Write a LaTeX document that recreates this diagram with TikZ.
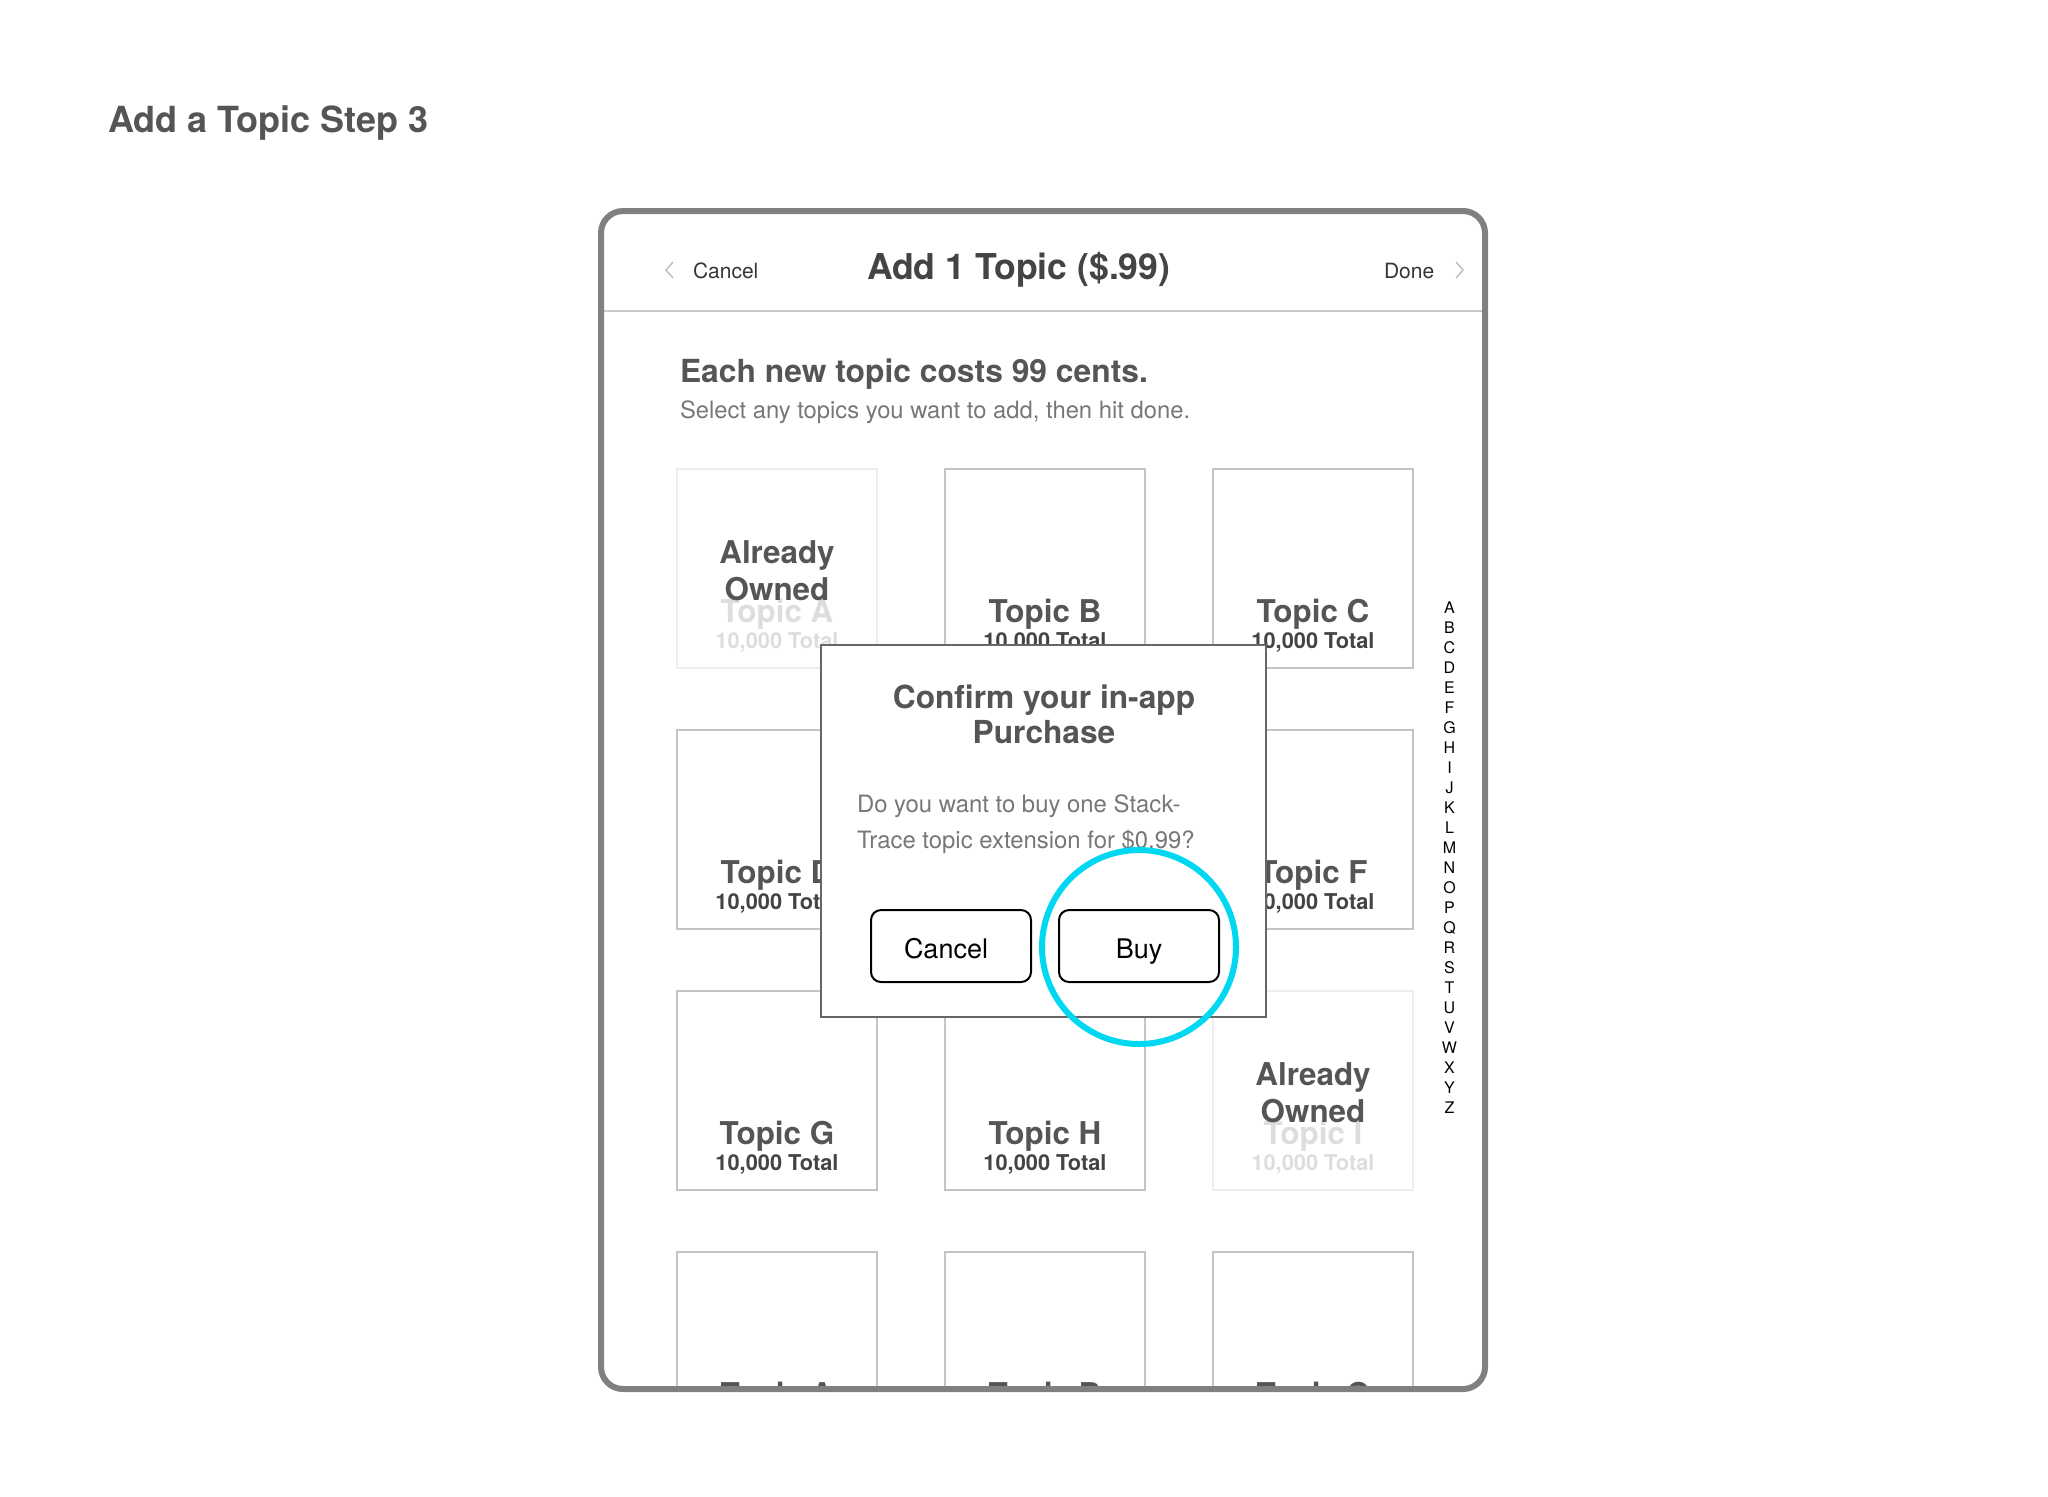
\documentclass[tikz,border=0pt]{standalone}
\usepackage{fontspec}
\setmainfont{TeX Gyre Heros}
\definecolor{framegray}{HTML}{808080}
\definecolor{sepgray}{HTML}{C8C8C8}
\definecolor{tilegray}{HTML}{C4C4C4}
\definecolor{ghostborder}{HTML}{EEEEEE}
\definecolor{ghosttext}{HTML}{DDDDDD}
\definecolor{headtext}{HTML}{555555}
\definecolor{darktext}{HTML}{444444}
\definecolor{softtext}{HTML}{777777}
\definecolor{dlgborder}{HTML}{666666}
\definecolor{chevgray}{HTML}{BBBBBB}
\definecolor{hilite}{HTML}{00D8F2}
\newcommand{\pxf}[1]{\fontsize{#1pt}{#1pt}\selectfont}
\begin{document}
\begin{tikzpicture}[x=0.5pt,y=-0.5pt,
  txt/.style={inner sep=0pt,outer sep=0pt},
  tilebox/.style={draw=tilegray,line width=1pt},
  ownedbox/.style={draw=ghostborder,line width=1pt},
  tname/.style={txt,anchor=base,font=\bfseries\pxf{15.7},text=headtext},
  ttotal/.style={txt,anchor=base,font=\bfseries\pxf{10.9},text=darktext},
  gname/.style={txt,anchor=base,font=\bfseries\pxf{15.7},text=ghosttext},
  gtotal/.style={txt,anchor=base,font=\bfseries\pxf{10.9},text=ghosttext},
  owned/.style={txt,anchor=base,font=\bfseries\pxf{15.7},text=headtext},
  chev/.style={draw=chevgray,line width=0.7pt},
  btn/.style={draw=black,line width=1pt,rounded corners=5pt},
  btntext/.style={txt,anchor=base,font=\pxf{13.5},text=black},
  idx/.style={txt,anchor=base,font=\pxf{8},text=black}]
\useasboundingbox (0,0) rectangle (2048,1496);

% page title
\node[txt,anchor=base west,font=\bfseries\pxf{18},text=headtext] (pagetitle) at (108,132) {Add a Topic Step 3};

% tiles (clipped to the device screen)
\begin{scope}
\clip (604,214) rectangle (1482,1386);
\foreach \c/\r/\lab/\own in {0/0/A/1,1/0/B/0,2/0/C/0,0/1/D/0,1/1/E/0,2/1/F/0,0/2/G/0,1/2/H/0,2/2/I/1,0/3/A/0,1/3/B/0,2/3/C/0}{
  \pgfmathsetmacro\tx{677+268*\c}
  \pgfmathsetmacro\ty{469+261*\r}
  \ifnum\own=1
    \draw[ownedbox] (\tx,\ty) rectangle ++(200,199);
    \node[gname] (name\c\r) at (\tx+100,\ty+153) {Topic \lab};
    \node[gtotal] (total\c\r) at (\tx+100,\ty+179) {10,000 Total};
    \node[owned] (al\c\r) at (\tx+100,\ty+94) {Already};
    \node[owned] (ow\c\r) at (\tx+100,\ty+131) {Owned};
  \else
    \draw[tilebox] (\tx,\ty) rectangle ++(200,199);
    \node[tname] (name\c\r) at (\tx+100,\ty+153) {Topic \lab};
    \node[ttotal] (total\c\r) at (\tx+100,\ty+179) {10,000 Total};
  \fi
}
\end{scope}

% device frame
\draw[framegray,line width=3pt,rounded corners=11pt] (601,211) rectangle (1485,1389);
\draw[sepgray,line width=1.2pt] (604,311) -- (1482,311);

% header
\draw[chev] (673,262) -- (666,270) -- (673,278);
\node[txt,anchor=base west,font=\pxf{10.5},text=darktext!80!black] (cancelhdr) at (693,278) {Cancel};
\node[txt,anchor=base west,font=\bfseries\pxf{17.8},text=darktext] (hdrtitle) at (867,279) {Add 1 Topic (\$.99)};
\node[txt,anchor=base west,font=\pxf{10.5},text=darktext!80!black] (donehdr) at (1384,278) {Done};
\draw[chev] (1456,262) -- (1463,270) -- (1456,278);

% intro
\node[txt,anchor=base west,font=\bfseries\pxf{15.9},text=headtext] (intro) at (680,382) {Each new topic costs 99 cents.};
\node[txt,anchor=base west,font=\pxf{11.9},text=softtext] (introsub) at (680,418) {Select any topics you want to add, then hit done.};

% alphabet index
\foreach \L [count=\i from 0] in {A,...,Z}{
  \node[idx] (idx\L) at (1449.5,613+20*\i) {\L};
}

% dialog
\draw[draw=dlgborder,fill=white,line width=1.2pt] (821,645) rectangle (1266,1017);
\node[txt,anchor=base,font=\bfseries\pxf{15.85},text=headtext] (dlgt1) at (1044,708) {Confirm your in-app};
\node[txt,anchor=base,font=\bfseries\pxf{15.85},text=headtext] (dlgt2) at (1044,743) {Purchase};
\node[txt,anchor=base west,font=\pxf{11.95},text=softtext] (dlgb1) at (857,812) {Do you want to buy one Stack-};
\node[txt,anchor=base west,font=\pxf{11.95},text=softtext] (dlgb2) at (857,848) {Trace topic extension for \$0.99?};

% buttons
\draw[btn] (871,910) rectangle (1031,982);
\node[btntext] (cancelbtn) at (946,958) {Cancel};
\draw[btn] (1059,910) rectangle (1219,982);
\node[btntext] (buybtn) at (1139,958) {Buy};

% highlight circle
\draw[hilite,line width=3pt] (1139,947) circle[radius=97];
\end{tikzpicture}
\end{document}
